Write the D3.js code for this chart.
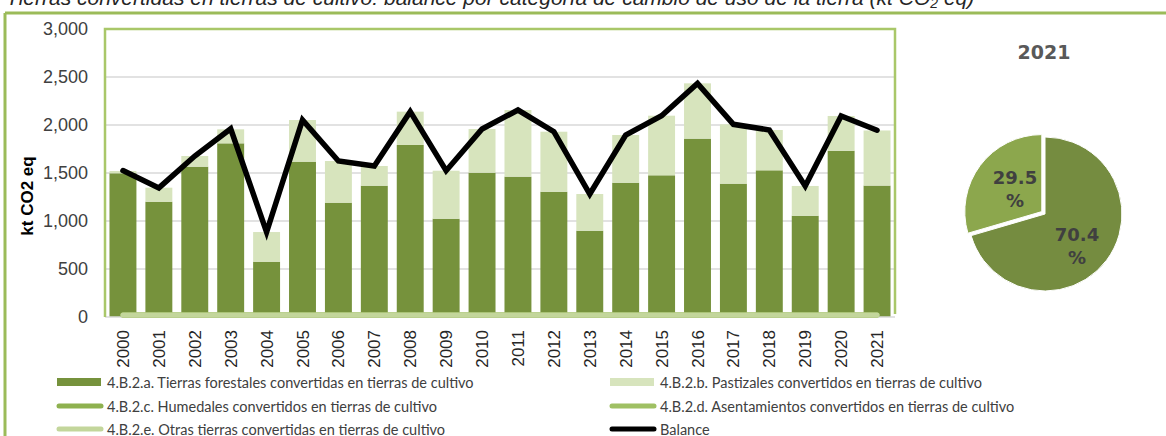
<!DOCTYPE html>
<html>
<head>
<meta charset="utf-8">
<script src="https://cdn.jsdelivr.net/npm/d3@7"></script>
<style>
  html, body { margin: 0; padding: 0; background: #ffffff; }
  svg { display: block; }
</style>
</head>
<body>
<svg id="chart" width="1166" height="436"></svg>
<script>
// Years of the inventory series
const years = ["2000","2001","2002","2003","2004","2005","2006","2007","2008","2009","2010",
               "2011","2012","2013","2014","2015","2016","2017","2018","2019","2020","2021"];

// 4.B.2.a  Forest land converted to cropland (kt CO2 eq)
const forestales = [1497,1201,1566,1809,576,1618,1191,1368,1792,1024,1503,
                    1462,1305,899,1399,1476,1858,1389,1528,1055,1732,1369];
// 4.B.2.b  Grassland converted to cropland
const pastizales = [24,146,111,146,309,434,434,205,347,500,455,
                    694,625,382,497,621,576,618,420,310,362,574];
// 4.B.2.c / d / e  Wetlands, settlements, other land (near zero)
const humedales     = [0,0,0,0,0,0,0,0,0,0,0,0,0,0,0,0,0,0,0,0,0,0];
const asentamientos = [0,0,0,0,0,0,0,0,0,0,0,0,0,0,0,0,0,0,0,0,0,0];
const otras         = [0,0,0,0,0,0,0,0,0,0,0,0,0,0,0,0,0,0,0,0,0,0];
// Net balance
const balance = [1525,1345,1677,1960,885,2052,1625,1573,2139,1524,1958,
                 2156,1930,1281,1896,2097,2434,2007,1948,1365,2094,1945];

// Axis ticks
const yTicks = [0,500,1000,1500,2000,2500,3000];

// 2021 shares (%)
const pieLabels = ["4.B.2.a","4.B.2.b"];
const pieValues = [70.4, 29.5];

const legendItems = [
  {label: "4.B.2.a. Tierras forestales convertidas en tierras de cultivo", kind: "rect", color: "#76923c"},
  {label: "4.B.2.b. Pastizales convertidos en tierras de cultivo", kind: "rect", color: "#d7e4bd"},
  {label: "4.B.2.c. Humedales convertidos en tierras de cultivo", kind: "line", color: "#8eb14f"},
  {label: "4.B.2.d. Asentamientos convertidos en tierras de cultivo", kind: "line", color: "#9fc063"},
  {label: "4.B.2.e. Otras tierras convertidas en tierras de cultivo", kind: "line", color: "#c3d69b"},
  {label: "Balance", kind: "line", color: "#000000"}
];

const svg = d3.select("#chart");
const font = "'Liberation Sans', Arial, sans-serif";
const legendFont = "Lato, 'Liberation Sans', sans-serif";
const pieFont = "'DejaVu Sans', sans-serif";
const textColor = "#404040";

// Outer frame (top and left green rules)
svg.append("line").attr("x1", 5).attr("x2", 1166).attr("y1", 13).attr("y2", 13)
  .attr("stroke", "#9bbb59").attr("stroke-width", 3);
svg.append("line").attr("x1", 5).attr("x2", 5).attr("y1", 13).attr("y2", 436)
  .attr("stroke", "#9bbb59").attr("stroke-width", 3);

// Title, running off the top edge
const title = svg.append("text")
  .attr("x", 6).attr("y", 5)
  .attr("font-family", font).attr("font-style", "italic").attr("font-size", 21)
  .attr("fill", "#262626");
title.append("tspan").text("Tierras convertidas en tierras de cultivo: balance por categoría de cambio de uso de la tierra (kt CO");
title.append("tspan").attr("font-size", 14).attr("dy", 3).text("2");
title.append("tspan").attr("dy", -3).text(" eq)");

// Plot area
const plot = {left: 105, right: 895, top: 29, bottom: 317};

const x = d3.scaleBand().domain(years).range([plot.left, plot.right]).paddingInner(0.25).paddingOuter(0.125);
const y = d3.scaleLinear().domain([0, 3000]).range([plot.bottom, plot.top]);

// Gridlines
svg.append("g").selectAll("line").data(yTicks.filter(t => t > 0 && t < 3000)).join("line")
  .attr("x1", plot.left).attr("x2", plot.right)
  .attr("y1", d => y(d)).attr("y2", d => y(d))
  .attr("stroke", "#d9d9d9").attr("stroke-width", 1.5);

// Y axis labels
const yAxis = d3.axisLeft(y).tickValues(yTicks).tickSize(0).tickPadding(0)
  .tickFormat(d3.format(","));
const gy = svg.append("g").attr("transform", `translate(${plot.left - 17},0)`).call(yAxis);
gy.select(".domain").remove();
gy.selectAll("text").attr("font-family", font).attr("font-size", 18).attr("fill", textColor);

// Y axis title
svg.append("text")
  .attr("transform", `translate(33,${(plot.top + plot.bottom) / 2 + 23}) rotate(-90)`)
  .attr("text-anchor", "middle")
  .attr("font-family", font).attr("font-weight", "bold").attr("font-size", 17)
  .attr("fill", "#000").text("kt CO2 eq");

// Stacked bars
const rows = years.map((yr, i) => ({year: yr, a: forestales[i], b: pastizales[i]}));
const stack = d3.stack().keys(["a", "b"])(rows);
const barColors = {a: "#76923c", b: "#d7e4bd"};
svg.append("g").selectAll("g").data(stack).join("g")
  .attr("fill", d => barColors[d.key])
  .selectAll("rect").data(d => d).join("rect")
  .attr("x", d => x(d.data.year))
  .attr("width", x.bandwidth())
  .attr("y", d => y(d[1]))
  .attr("height", d => y(d[0]) - y(d[1]));

// X axis line
svg.append("line").attr("x1", plot.left).attr("x2", plot.right)
  .attr("y1", plot.bottom).attr("y2", plot.bottom)
  .attr("stroke", "#d9d9d9").attr("stroke-width", 1.5);

// Near-zero category lines
const cx = d => x(d) + x.bandwidth() / 2;
const lineGen = vals => d3.line().x((d, i) => cx(years[i])).y(d => y(d))(vals);
[[humedales, "#8eb14f"], [asentamientos, "#9fc063"], [otras, "#c3d69b"]].forEach(([vals, col]) => {
  svg.append("path").attr("d", lineGen(vals)).attr("fill", "none")
    .attr("stroke", col).attr("stroke-width", 5).attr("stroke-linecap", "round")
    .attr("transform", "translate(0,-2)");
});

// Balance line
svg.append("path").attr("d", lineGen(balance)).attr("fill", "none")
  .attr("stroke", "#000").attr("stroke-width", 5.5)
  .attr("stroke-linejoin", "miter").attr("stroke-linecap", "round");

// Plot frame (top, left, right)
svg.append("path")
  .attr("d", `M${plot.left},${plot.bottom} V${plot.top} H${plot.right} V${plot.bottom - 3}`)
  .attr("fill", "none").attr("stroke", "#a9c769").attr("stroke-width", 2.5);

// X axis labels (rotated)
svg.append("g").selectAll("text").data(years).join("text")
  .attr("transform", d => `translate(${cx(d) + 6},${plot.bottom + 13}) rotate(-90)`)
  .attr("text-anchor", "end")
  .attr("font-family", font).attr("font-size", 17).attr("fill", "#262626")
  .text(d => d);

// Legend
const legCols = [57, 610];
const legRows = [382, 406, 429];
legendItems.forEach((it, i) => {
  const lx = legCols[i % 2], ly = legRows[Math.floor(i / 2)];
  if (it.kind === "rect") {
    svg.append("rect").attr("x", lx).attr("y", ly - 4).attr("width", 44).attr("height", 8).attr("fill", it.color);
  } else {
    svg.append("line").attr("x1", lx + 2).attr("x2", lx + 44).attr("y1", ly).attr("y2", ly)
      .attr("stroke", it.color).attr("stroke-width", 5).attr("stroke-linecap", "round");
  }
  svg.append("text").attr("x", lx + 50).attr("y", ly + 5.5)
    .attr("font-family", legendFont).attr("font-size", 14.5).attr("fill", textColor)
    .text(it.label);
});

// Pie for 2021
const pieCx = 1045, pieCy = 214, r = 77;
svg.append("text").attr("x", 1044).attr("y", 59).attr("text-anchor", "middle")
  .attr("font-family", pieFont).attr("font-weight", "bold").attr("font-size", 19)
  .attr("fill", "#595959").text("2021");

const pie = d3.pie().sort(null).value(d => d)(pieValues);
const arc = d3.arc().innerRadius(0).outerRadius(r);
const pieColors = ["#758c40", "#8ca74d"];
const pg = svg.append("g").attr("transform", `translate(${pieCx},${pieCy})`);
pg.selectAll("path").data(pie).join("path")
  .attr("d", arc)
  .attr("fill", (d, i) => pieColors[i])
  .attr("stroke", "#fff").attr("stroke-width", 1)
  .attr("transform", (d, i) => {
    if (i === 0) return null;
    const m = (d.startAngle + d.endAngle) / 2;
    return `translate(${Math.sin(m) * 4},${-Math.cos(m) * 4})`;
  });

// Percentage labels: [x offset, baseline of number]
const labelPos = [[32, 27], [-30, -30]];
pie.forEach((d, i) => {
  const t = pg.append("text").attr("text-anchor", "middle")
    .attr("font-family", pieFont).attr("font-weight", "bold").attr("font-size", 18)
    .attr("fill", "#404040");
  t.append("tspan").attr("x", labelPos[i][0]).attr("y", labelPos[i][1]).text(d3.format(".1f")(d.data));
  t.append("tspan").attr("x", labelPos[i][0]).attr("y", labelPos[i][1] + 23).text("%");
});
</script>
</body>
</html>
